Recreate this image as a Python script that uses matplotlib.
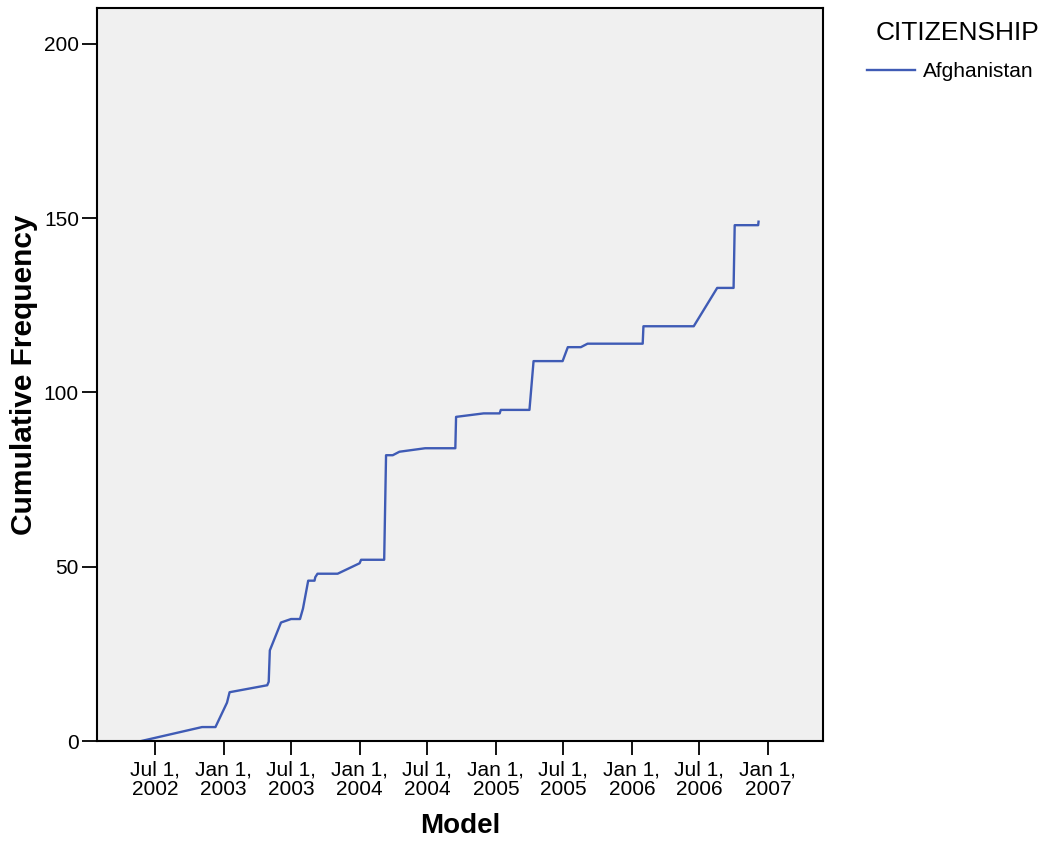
import pandas as pd
import matplotlib
matplotlib.use('Agg')
import matplotlib.pyplot as plt
from matplotlib.lines import Line2D

plt.rcParams['font.family'] = ['Liberation Sans', 'DejaVu Sans']

######################################################
# Cumulative frequency of cases by date
dates = ['2002-05-25', '2002-11-04', '2002-12-10', '2003-01-10', '2003-01-17',
         '2003-04-28', '2003-05-02', '2003-05-05', '2003-06-04', '2003-07-01',
         '2003-07-25', '2003-08-02', '2003-08-16', '2003-09-02', '2003-09-04',
         '2003-09-10', '2003-11-03', '2004-01-01', '2004-01-05', '2004-03-07',
         '2004-03-12', '2004-03-30', '2004-04-17', '2004-06-25', '2004-09-14',
         '2004-09-16', '2004-11-29', '2005-01-11', '2005-01-14', '2005-04-01',
         '2005-04-12', '2005-06-29', '2005-07-13', '2005-08-17', '2005-09-04',
         '2006-01-30', '2006-02-01', '2006-06-16', '2006-08-18', '2006-10-01',
         '2006-10-04', '2006-12-06', '2006-12-07']
cum_freq = [0, 4, 4, 11, 14,
            16, 17, 26, 34, 35,
            35, 38, 46, 46, 47,
            48, 48, 51, 52, 52,
            82, 82, 83, 84, 84,
            93, 94, 94, 95, 95,
            109, 109, 113, 113, 114,
            114, 119, 119, 130, 130,
            148, 148, 149]

tick_dates = ['2002-07-01', '2003-01-01', '2003-07-01', '2004-01-01', '2004-07-01',
              '2005-01-01', '2005-07-01', '2006-01-01', '2006-07-01', '2007-01-01']
tick_labels = ['Jul 1,\n2002', 'Jan 1,\n2003', 'Jul 1,\n2003', 'Jan 1,\n2004', 'Jul 1,\n2004',
               'Jan 1,\n2005', 'Jul 1,\n2005', 'Jan 1,\n2006', 'Jul 1,\n2006', 'Jan 1,\n2007']
y_ticks = [0, 50, 100, 150, 200]

x = pd.to_datetime(dates)
line_color = '#3f5bb5'

fig = plt.figure(figsize=(10.44, 8.46), dpi=100)
ax = fig.add_axes([0.0929, 0.1241, 0.6954, 0.8664])
ax.set_facecolor('#f0f0f0')
ax.plot(x, cum_freq, color=line_color, linewidth=1.7)

ax.set_xlim(pd.Timestamp('2002-01-26'), pd.Timestamp('2007-05-29'))
ax.set_ylim(0, 210.3)
ax.set_xticks(pd.to_datetime(tick_dates))
ax.set_xticklabels(tick_labels, fontsize=15, linespacing=1.03)
ax.set_yticks(y_ticks)
ax.tick_params(axis='y', labelsize=15, length=11, width=1.3, direction='out', pad=2)
ax.tick_params(axis='x', length=10, width=1.3, direction='out', pad=4)
for s in ax.spines.values():
    s.set_linewidth(1.5)

ax.set_xlabel('Model', fontsize=20, fontweight='bold', labelpad=10)
ax.set_ylabel('Cumulative Frequency', fontsize=21.5, fontweight='bold', labelpad=4)

# legend drawn to the right of the plot
fig.text(0.9167, 0.961, 'CITIZENSHIP', fontsize=19, ha='center', va='center')
handle = Line2D([], [], color=line_color, linewidth=1.7)
fig.legend(handles=[handle], labels=['Afghanistan'], loc='center left',
           bbox_to_anchor=(0.8305, 0.915), frameon=False, fontsize=15,
           handlelength=2.3, handletextpad=0.38, borderpad=0, borderaxespad=0)

fig.savefig('out.png', dpi=100)
